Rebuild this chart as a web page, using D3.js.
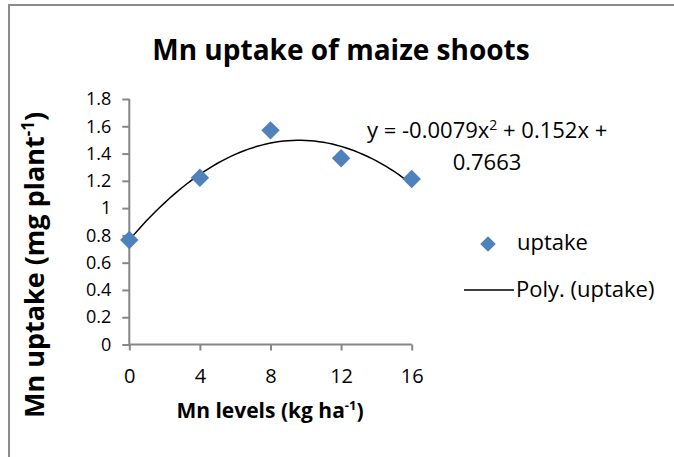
<!DOCTYPE html>
<html><head><meta charset="utf-8">
<script src="https://cdn.jsdelivr.net/npm/d3@7"></script>
<style>body{margin:0;background:#fff}svg{display:block}text{font-family:"Open Sans",sans-serif}</style>
</head><body>
<script>
const levels = [0, 4, 8, 12, 16];
const uptake = [0.766, 1.223, 1.570, 1.365, 1.213];
const coef = [-0.0079, 0.152, 0.7663];
const yTicks = [0, 0.2, 0.4, 0.6, 0.8, 1, 1.2, 1.4, 1.6, 1.8];
const xTicks = [0, 4, 8, 12, 16];

const W = 674, H = 457;
const FONT = '"Open Sans", sans-serif';
const svg = d3.select("body").append("svg").attr("width", W).attr("height", H);
svg.append("rect").attr("x", 9).attr("y", 5).attr("width", 700).attr("height", 500)
  .attr("fill", "#fff").attr("stroke", "#8c8c8c").attr("stroke-width", 2);

const x = d3.scaleLinear().domain([0, 16]).range([129.3, 411.7]);
const y = d3.scaleLinear().domain([0, 1.8]).range([344.5, 99]);

const yAxis = svg.append("g").attr("transform", `translate(${x(0)},0)`)
  .call(d3.axisLeft(y).tickValues(yTicks).tickSize(7).tickPadding(11).tickFormat(d => d3.format("")(+d.toFixed(1))));
const xAxis = svg.append("g").attr("transform", `translate(0,${y(0)})`)
  .call(d3.axisBottom(x).tickValues(xTicks).tickSize(6).tickPadding(18));
yAxis.attr("font-family", FONT).attr("font-size", 18);
xAxis.attr("font-family", FONT).attr("font-size", 20);
[yAxis, xAxis].forEach(a => {
  a.select(".domain").attr("stroke", "#868686").attr("stroke-width", 2);
  a.selectAll(".tick line").attr("stroke", "#868686").attr("stroke-width", 2);
  a.selectAll("text").attr("fill", "#000");
});
yAxis.select(".domain").attr("d", `M0,${y(0)}V${y(1.8)}`);
xAxis.select(".domain").attr("d", `M${x(0)},0H${x(16)}`);

// trend line
const f = t => coef[0]*t*t + coef[1]*t + coef[2];
const pts = d3.range(0, 16.001, 0.25).map(t => [t, f(t)]);
svg.append("path").datum(pts)
  .attr("d", d3.line().x(d => x(d[0])).y(d => y(d[1])))
  .attr("fill", "none").attr("stroke", "#000").attr("stroke-width", 1.5);

// points
const diamond = d3.symbol().type(d3.symbolSquare).size(170);
svg.selectAll(".pt").data(levels).join("path")
  .attr("d", diamond())
  .attr("transform", (d, i) => `translate(${x(d)},${y(uptake[i])}) rotate(45)`)
  .attr("fill", "#4F81BD");

// title
svg.append("text").attr("x", 341).attr("y", 60).attr("text-anchor", "middle")
  .attr("font-size", 28).attr("font-weight", "bold").text("Mn uptake of maize shoots");

// y axis title
const yt = svg.append("text").attr("transform", "translate(44,265) rotate(-90)")
  .attr("text-anchor", "middle").attr("font-size", 27).attr("font-weight", "bold");
yt.append("tspan").text("Mn uptake (mg plant");
yt.append("tspan").attr("dy", -10).attr("font-size", 17).text("-1");
yt.append("tspan").attr("dy", 10).text(")");

// x axis title
const xt = svg.append("text").attr("x", 270).attr("y", 418).attr("text-anchor", "middle")
  .attr("font-size", 21).attr("font-weight", "bold");
xt.append("tspan").text("Mn levels (kg ha");
xt.append("tspan").attr("dy", -8).attr("font-size", 13).text("-1");
xt.append("tspan").attr("dy", 8).text(")");

// equation
const eq = svg.append("text").attr("x", 367).attr("y", 138).attr("font-size", 22);
eq.append("tspan").text("y = -0.0079x");
eq.append("tspan").attr("dy", -8).attr("font-size", 14).text("2");
eq.append("tspan").attr("dy", 8).text(" + 0.152x +");
svg.append("text").attr("x", 487).attr("y", 170).attr("text-anchor", "middle")
  .attr("font-size", 22).text("0.7663");

// legend
svg.append("path").attr("d", d3.symbol().type(d3.symbolSquare).size(120)())
  .attr("transform", "translate(488,244) rotate(45)").attr("fill", "#4F81BD");
svg.append("text").attr("x", 517).attr("y", 250).attr("font-size", 22).text("uptake");
svg.append("line").attr("x1", 464).attr("x2", 514).attr("y1", 290).attr("y2", 290)
  .attr("stroke", "#000").attr("stroke-width", 1.5);
svg.append("text").attr("x", 516).attr("y", 297).attr("font-size", 22).text("Poly. (uptake)");
</script>
</body></html>
